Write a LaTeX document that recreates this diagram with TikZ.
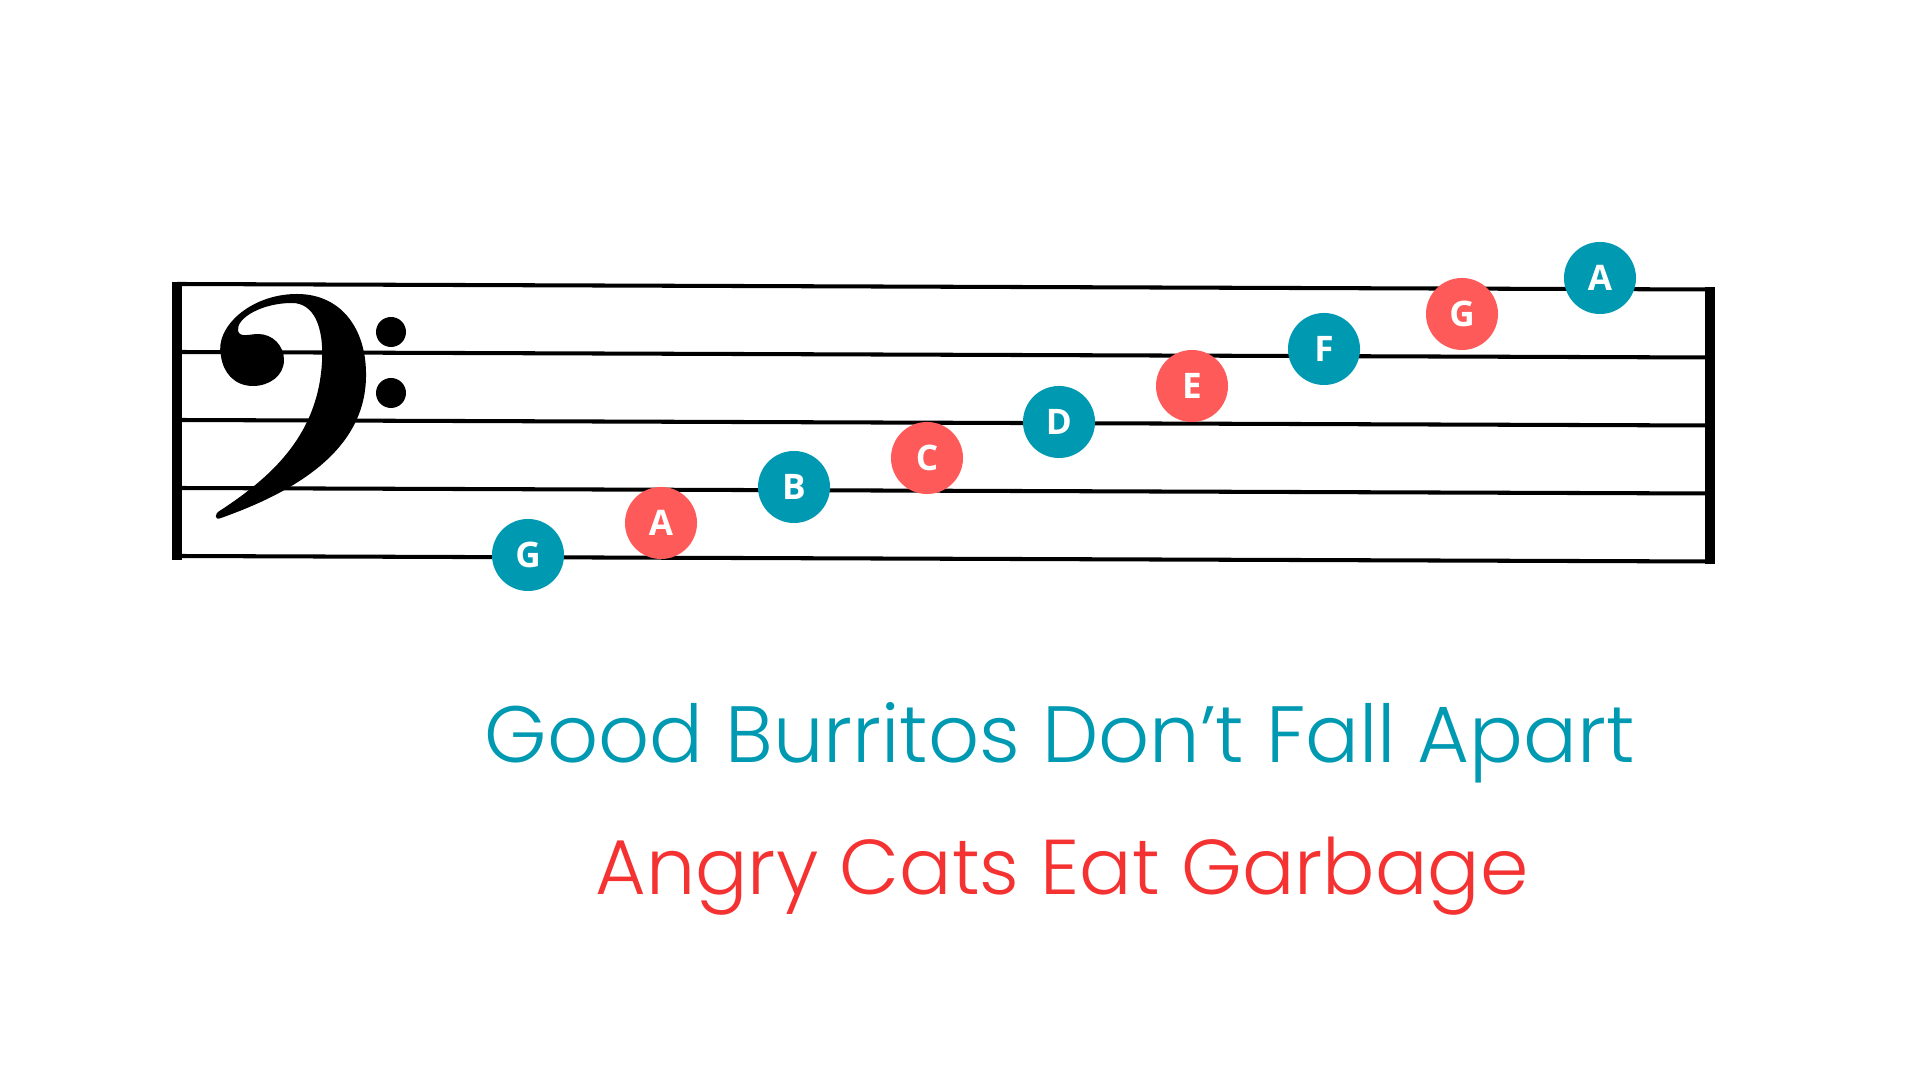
\documentclass[tikz,border=0pt]{standalone}
\usepackage{fontspec}
\newfontfamily\mnemfont{Poppins Light}
\newfontfamily\notefont{Open Sans}
\definecolor{teal}{RGB}{0,153,178}
\definecolor{coral}{RGB}{255,90,90}
\definecolor{redtext}{RGB}{245,50,50}
\begin{document}
\begin{tikzpicture}[x=0.01cm, y=-0.01cm,
    note/.style={circle, fill=#1, minimum size=0.72cm, inner sep=0pt,
      text=white, font=\notefont\bfseries\fontsize{10}{10}\selectfont},
    staffline/.style={line width=1.15pt},
    barline/.style={line width=3pt}]
                    \useasboundingbox (0,0) rectangle (1920,1080);

                    % staff
                    \draw[staffline] (177,284) -- (1710,289.5);
                    \draw[staffline] (177,352) -- (1710,357.5);
                    \draw[staffline] (177,420) -- (1710,425.5);
                    \draw[staffline] (177,488) -- (1710,493.5);
                    \draw[staffline] (177,556) -- (1710,561.5);
                    \draw[barline] (177,282) -- (177,560);
                    \draw[barline] (1710,287.5) -- (1710,564);

                    % bass clef
                    \fill (221,356) .. controls (214,328) and (250,294) .. (297,294)
                        .. controls (342,294) and (367,330) .. (366,377)
                        .. controls (365,448) and (300,490) .. (221,518)
                        .. controls (215,521) and (213,514) .. (221,510)
                        .. controls (276,474) and (318,432) .. (322,362)
                        .. controls (324,325) and (313,303) .. (292,303)
                        .. controls (262,303) and (236,318) .. (238,331)
                        .. controls (240,338) and (250,334) .. (258,334)
                        .. controls (273,334) and (284,346) .. (284,360)
                        .. controls (284,376) and (269,386) .. (253,386)
                        .. controls (234,386) and (223,372) .. (221,356) -- cycle;
                    \fill (391,332) circle (15);
                    \fill (391,393) circle (15);

                    % notes
                    \node[note=teal]  (lowG) at (528,555) {G};
                    \node[note=coral] (lowA) at (661,523) {A};
                    \node[note=teal]  (B)    at (794,487) {B};
                    \node[note=coral] (C)    at (927,458) {C};
                    \node[note=teal]  (D)    at (1059,422) {D};
                    \node[note=coral] (E)    at (1192,386) {E};
                    \node[note=teal]  (F)    at (1324,349) {F};
                    \node[note=coral] (highG) at (1462,314) {G};
                    \node[note=teal]  (highA) at (1600,278) {A};

                    % mnemonics
                    \node[anchor=base, text=teal, font=\mnemfont\fontsize{22.7}{28}\selectfont]
                        (lines) at (1060,763) {Good Burritos Don’t Fall Apart};
                    \node[anchor=base, text=redtext, font=\mnemfont\fontsize{22.1}{28}\selectfont]
                        (spaces) at (1062,895) {Angry Cats Eat Garbage};
                \end{tikzpicture}
\end{document}
